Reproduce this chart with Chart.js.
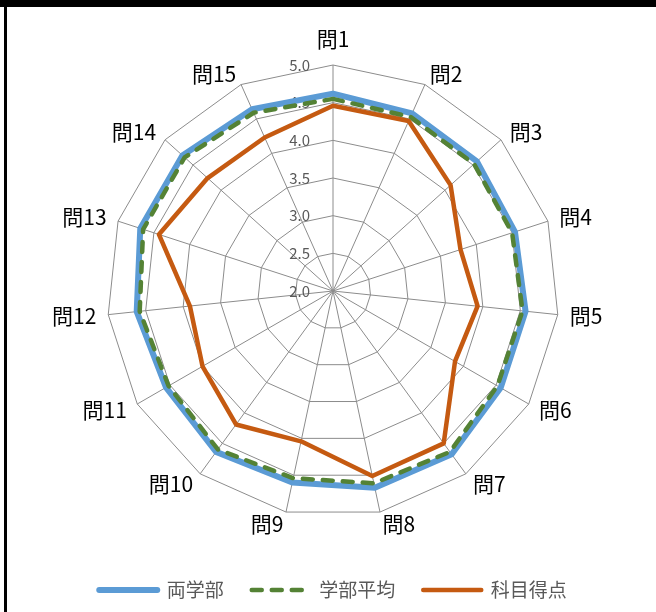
<!DOCTYPE html>
<html>
<head>
<meta charset="utf-8">
<script src="https://cdn.jsdelivr.net/npm/chart.js@4"></script>
<style>
  body { margin: 0; background: #fff; }
  #wrap { position: relative; width: 656px; height: 612px; overflow: hidden; }
  #chart { position: absolute; left: 0; top: 0; }
  .band { position: absolute; left: 0; top: 0; width: 656px; height: 7px; background: #000; }
  .edge { position: absolute; left: 4px; top: 0; width: 3px; height: 612px; background: #000; }
</style>
</head>
<body>
<div id="wrap">
  <canvas id="chart" width="656" height="612"></canvas>
  <div class="band"></div>
  <div class="edge"></div>
</div>
<script>
// 設問ラベル
var questions = ["問1", "問2", "問3", "問4", "問5", "問6", "問7", "問8", "問9", "問10", "問11", "問12", "問13", "問14", "問15"];

// 系列の値
var ryogakubu = [4.62, 4.58, 4.57, 4.54, 4.57, 4.57, 4.68, 4.67, 4.60, 4.64, 4.56, 4.62, 4.69, 4.69, 4.64];
var gakubuHeikin = [4.55, 4.53, 4.52, 4.50, 4.53, 4.52, 4.64, 4.61, 4.54, 4.60, 4.52, 4.58, 4.65, 4.65, 4.59];
var kamokuTokuten = [4.46, 4.47, 4.10, 3.78, 3.93, 3.87, 4.50, 4.51, 4.04, 4.19, 4.00, 3.91, 4.43, 4.24, 4.23];

// 目盛り
var tickValues = [2.0, 2.5, 3.0, 3.5, 4.0, 4.5, 5.0];

var FONT = '"Noto Sans CJK JP", "Noto Sans", sans-serif';

// 目盛りと設問ラベルはExcel風の位置に描く
var excelLabels = {
    id: "excelLabels",
    beforeDatasetsDraw: function (chart) {
        var scale = chart.scales.r;
        var ctx = chart.ctx;
        ctx.save();
        ctx.font = "15px " + FONT;
        ctx.fillStyle = "#595959";
        ctx.textAlign = "right";
        ctx.textBaseline = "middle";
        tickValues.forEach(function (v) {
            var d = scale.getDistanceFromCenterForValue(v);
            ctx.fillText(v.toFixed(1), scale.xCenter - 23, scale.yCenter - d);
        });
        ctx.restore();
    },
    afterDraw: function (chart) {
        var scale = chart.scales.r;
        var ctx = chart.ctx;
        ctx.save();
        ctx.font = "21px " + FONT;
        ctx.fillStyle = "#000";
        questions.forEach(function (q, i) {
            var deg = Math.round(i * 360 / questions.length) % 360;
            var pos = scale.getPointPosition(i, scale.drawingArea + (deg === 0 ? 15 : 12));
            ctx.textAlign = (deg === 0 || deg === 180) ? "center" : (deg < 180 ? "left" : "right");
            ctx.textBaseline = deg === 0 ? "bottom" : (deg === 180 ? "top" : "middle");
            ctx.fillText(q, pos.x, pos.y);
        });
        ctx.restore();
    }
};

var ctx = document.getElementById("chart").getContext("2d");

new Chart(ctx, {
    type: "radar",
    data: {
        labels: questions,
        datasets: [
            {
                label: "両学部",
                data: ryogakubu,
                borderColor: "#5B9BD5",
                backgroundColor: "#5B9BD5",
                borderWidth: 6,
                order: 3
            },
            {
                label: "学部平均",
                data: gakubuHeikin,
                borderColor: "#548235",
                backgroundColor: "#548235",
                borderWidth: 4.5,
                borderDash: [10, 10],
                order: 2
            },
            {
                label: "科目得点",
                data: kamokuTokuten,
                borderColor: "#C55A11",
                backgroundColor: "#C55A11",
                borderWidth: 4.5,
                order: 1
            }
        ]
    },
    options: {
        responsive: false,
        animation: false,
        layout: { padding: { left: 10, right: 0, top: 65, bottom: 2.5 } },
        elements: {
            line: { fill: false, tension: 0, borderCapStyle: "round", borderJoinStyle: "round" },
            point: { radius: 0, hitRadius: 0, hoverRadius: 0 }
        },
        scales: {
            r: {
                min: 2,
                max: 5,
                beginAtZero: false,
                ticks: { display: false, stepSize: 0.5 },
                pointLabels: { display: false },
                grid: { color: "#8c8c8c", lineWidth: 1 },
                angleLines: { color: "#8c8c8c", lineWidth: 1 }
            }
        },
        plugins: {
            tooltip: { enabled: false },
            legend: {
                position: "bottom",
                // 空のタイトルで凡例を下へ寄せる
                title: { display: true, text: "", font: { size: 10 }, padding: { top: 23.5, bottom: 0 } },
                labels: {
                    usePointStyle: true,
                    pointStyleWidth: 58,
                    padding: 28,
                    color: "#595959",
                    font: { family: FONT, size: 19 },
                    sort: function (a, b) { return a.datasetIndex - b.datasetIndex; },
                    generateLabels: function (chart) {
                        return chart.data.datasets.map(function (ds, i) {
                            return {
                                text: ds.label,
                                datasetIndex: i,
                                fillStyle: ds.borderColor,
                                strokeStyle: ds.borderColor,
                                lineWidth: ds.borderWidth,
                                lineDash: ds.borderDash || [],
                                lineCap: "round",
                                pointStyle: "line",
                                fontColor: "#595959",
                                hidden: false
                            };
                        });
                    }
                }
            }
        }
    },
    plugins: [excelLabels]
});
</script>
</body>
</html>
